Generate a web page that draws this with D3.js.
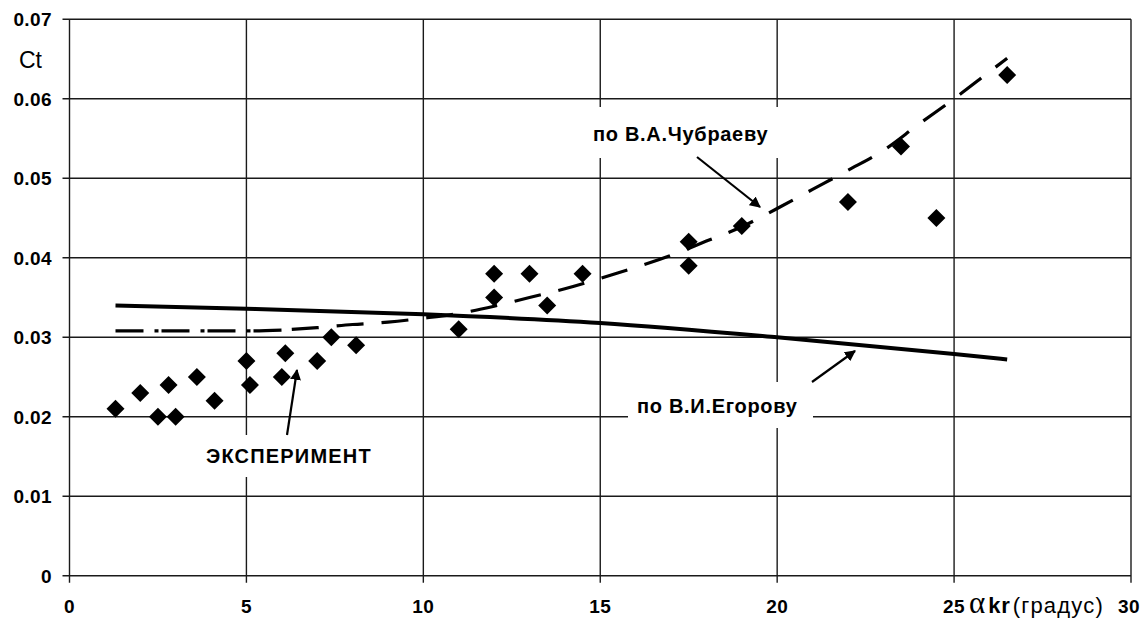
<!DOCTYPE html>
<html>
<head>
<meta charset="utf-8">
<script src="https://cdn.jsdelivr.net/npm/d3@7"></script>
<style>
  html, body { margin: 0; padding: 0; background: #fff; }
  svg { display: block; }
  text { font-family: "Liberation Sans", Arial, sans-serif; fill: #000; }
</style>
</head>
<body>
<svg id="chart" width="1147" height="620"></svg>
<script>
// Ct vs angle α kr: experiment points and two theoretical curves
const xTicks = [0, 5, 10, 15, 20, 25, 30];
const yTicks = [0, 0.01, 0.02, 0.03, 0.04, 0.05, 0.06, 0.07];

// ЭКСПЕРИМЕНТ
const expX = [1.3, 2.0, 2.5, 2.8, 3.0, 3.6, 4.1, 5.0, 5.1, 6.1, 6.0, 7.0, 7.4, 8.1,
              11.0, 12.0, 12.0, 13.0, 13.5, 14.5, 17.5, 17.5, 19.0, 22.0, 23.5, 24.5, 26.5];
const expY = [0.021, 0.023, 0.020, 0.024, 0.020, 0.025, 0.022, 0.027, 0.024, 0.028, 0.025, 0.027, 0.030, 0.029,
              0.031, 0.035, 0.038, 0.038, 0.034, 0.038, 0.042, 0.039, 0.044, 0.047, 0.054, 0.045, 0.063];

// по В.И.Егорову
const egorovX = [1.3, 5, 10, 15, 20, 25, 26.5];
const egorovY = [0.0340, 0.0336, 0.0329, 0.0318, 0.0300, 0.0279, 0.0272];

// по В.А.Чубраеву
const chubX = [1.3, 3, 5, 6, 7, 8, 9, 10, 11, 12, 13, 14, 15, 16, 17, 18, 19, 20, 21, 22, 23, 24, 25, 26, 26.5];
const chubY = [0.0308, 0.0308, 0.0308, 0.0309, 0.0312, 0.0316, 0.0319, 0.0324, 0.0330, 0.0339, 0.0350, 0.0361,
               0.0374, 0.0388, 0.0403, 0.0421, 0.0439, 0.0462, 0.0486, 0.0510, 0.0535, 0.0568, 0.0600, 0.0634, 0.0651];

const svg = d3.select("#chart");
const x = d3.scaleLinear().domain([0, 30]).range([69.5, 1131]);
const y = d3.scaleLinear().domain([0, 0.07]).range([575.7, 19.3]);
const ink = "#1a1a1a";
const tickLen = 7;

// grid
const grid = svg.append("g").attr("stroke", ink).attr("stroke-width", 1.4);
grid.selectAll("line.v").data(xTicks).join("line")
  .attr("x1", d => x(d)).attr("x2", d => x(d))
  .attr("y1", y(0.07)).attr("y2", y(0) + tickLen);
grid.selectAll("line.h").data(yTicks).join("line")
  .attr("x1", x(0) - tickLen).attr("x2", x(30))
  .attr("y1", d => y(d)).attr("y2", d => y(d));

// tick labels
const fmt = d => d === 0 ? "0" : d3.format(".2f")(d);
svg.append("g").selectAll("text").data(yTicks).join("text")
  .attr("x", 52).attr("y", d => y(d)).attr("dy", "0.36em")
  .attr("text-anchor", "end")
  .style("font-size", "19px").style("font-weight", "bold").style("letter-spacing", "0.4px")
  .text(fmt);
svg.append("g").selectAll("text").data(xTicks).join("text")
  .attr("x", d => d === 30 ? x(d) - 2 : x(d)).attr("y", 613)
  .attr("text-anchor", "middle")
  .style("font-size", "19px").style("font-weight", "bold").style("letter-spacing", "0.4px")
  .text(d => d);

// axis titles
svg.append("text").attr("x", 19).attr("y", 68)
  .style("font-size", "23px").text("Ct");
const xt = svg.append("text").attr("x", 969).attr("y", 613);
xt.append("tspan").style("font-family", "'Liberation Serif', serif").style("font-size", "31px").text("α");
xt.append("tspan").attr("dx", 3).style("font-weight", "bold").style("font-size", "22px").style("letter-spacing", "0.8px").text("kr");
xt.append("tspan").attr("dx", 2).style("font-size", "22px").style("letter-spacing", "1.2px").text("(градус)");

// label boxes (white, cover the grid)
const boxes = [
  {x0: 585, x1: 782, y0: 107, y1: 158},
  {x0: 628, x1: 813, y0: 382, y1: 428},
  {x0: 198, x1: 380, y0: 435, y1: 477}
];
svg.append("g").selectAll("rect").data(boxes).join("rect")
  .attr("x", d => d.x0).attr("y", d => d.y0)
  .attr("width", d => d.x1 - d.x0).attr("height", d => d.y1 - d.y0)
  .attr("fill", "#fff");

// theoretical curves
const ptsE = egorovX.map((v, i) => [v, egorovY[i]]);
const ptsC = chubX.map((v, i) => [v, chubY[i]]);
const line = d3.line().x(d => x(d[0])).y(d => y(d[1])).curve(d3.curveMonotoneX);

svg.append("path").datum(ptsE).attr("d", line)
  .attr("fill", "none").attr("stroke", "#000").attr("stroke-width", 4);

svg.append("path").datum(ptsC.filter(d => d[0] <= 6)).attr("d", line)
  .attr("fill", "none").attr("stroke", "#000").attr("stroke-width", 3.2)
  .attr("stroke-dasharray", "28,11,4,3");
svg.append("path").datum(ptsC.filter(d => d[0] >= 6)).attr("d", line)
  .attr("fill", "none").attr("stroke", "#000").attr("stroke-width", 3.2)
  .attr("stroke-dasharray", "0,10,27,8");

// experiment markers
const r = 9;
svg.append("g").selectAll("path").data(expX.map((v, i) => [v, expY[i]])).join("path")
  .attr("transform", d => `translate(${x(d[0])},${y(d[1])})`)
  .attr("d", `M0,${-r}L${r},0L0,${r}L${-r},0Z`)
  .attr("fill", "#000");

// labels
const labelStyle = sel => sel.style("font-size", "20px").style("font-weight", "bold").style("letter-spacing", "0.7px");
svg.append("text").attr("x", 593).attr("y", 141).call(labelStyle).text("по В.А.Чубраеву");
svg.append("text").attr("x", 637).attr("y", 413).call(labelStyle).text("по В.И.Егорову");
svg.append("text").attr("x", 206).attr("y", 463).call(labelStyle).style("letter-spacing", "1.2px").text("ЭКСПЕРИМЕНТ");

// arrows
svg.append("defs").append("marker")
  .attr("id", "head").attr("viewBox", "0 0 10 10").attr("refX", 9).attr("refY", 5)
  .attr("markerWidth", 5).attr("markerHeight", 5).attr("orient", "auto")
  .append("path").attr("d", "M0,0L10,5L0,10Z").attr("fill", "#000");
const arrows = [
  [697, 157, 760, 207],
  [812, 382, 855, 351],
  [287, 435, 297, 370]
];
svg.append("g").selectAll("line").data(arrows).join("line")
  .attr("x1", d => d[0]).attr("y1", d => d[1]).attr("x2", d => d[2]).attr("y2", d => d[3])
  .attr("stroke", "#000").attr("stroke-width", 2.2).attr("marker-end", "url(#head)");
</script>
</body>
</html>
